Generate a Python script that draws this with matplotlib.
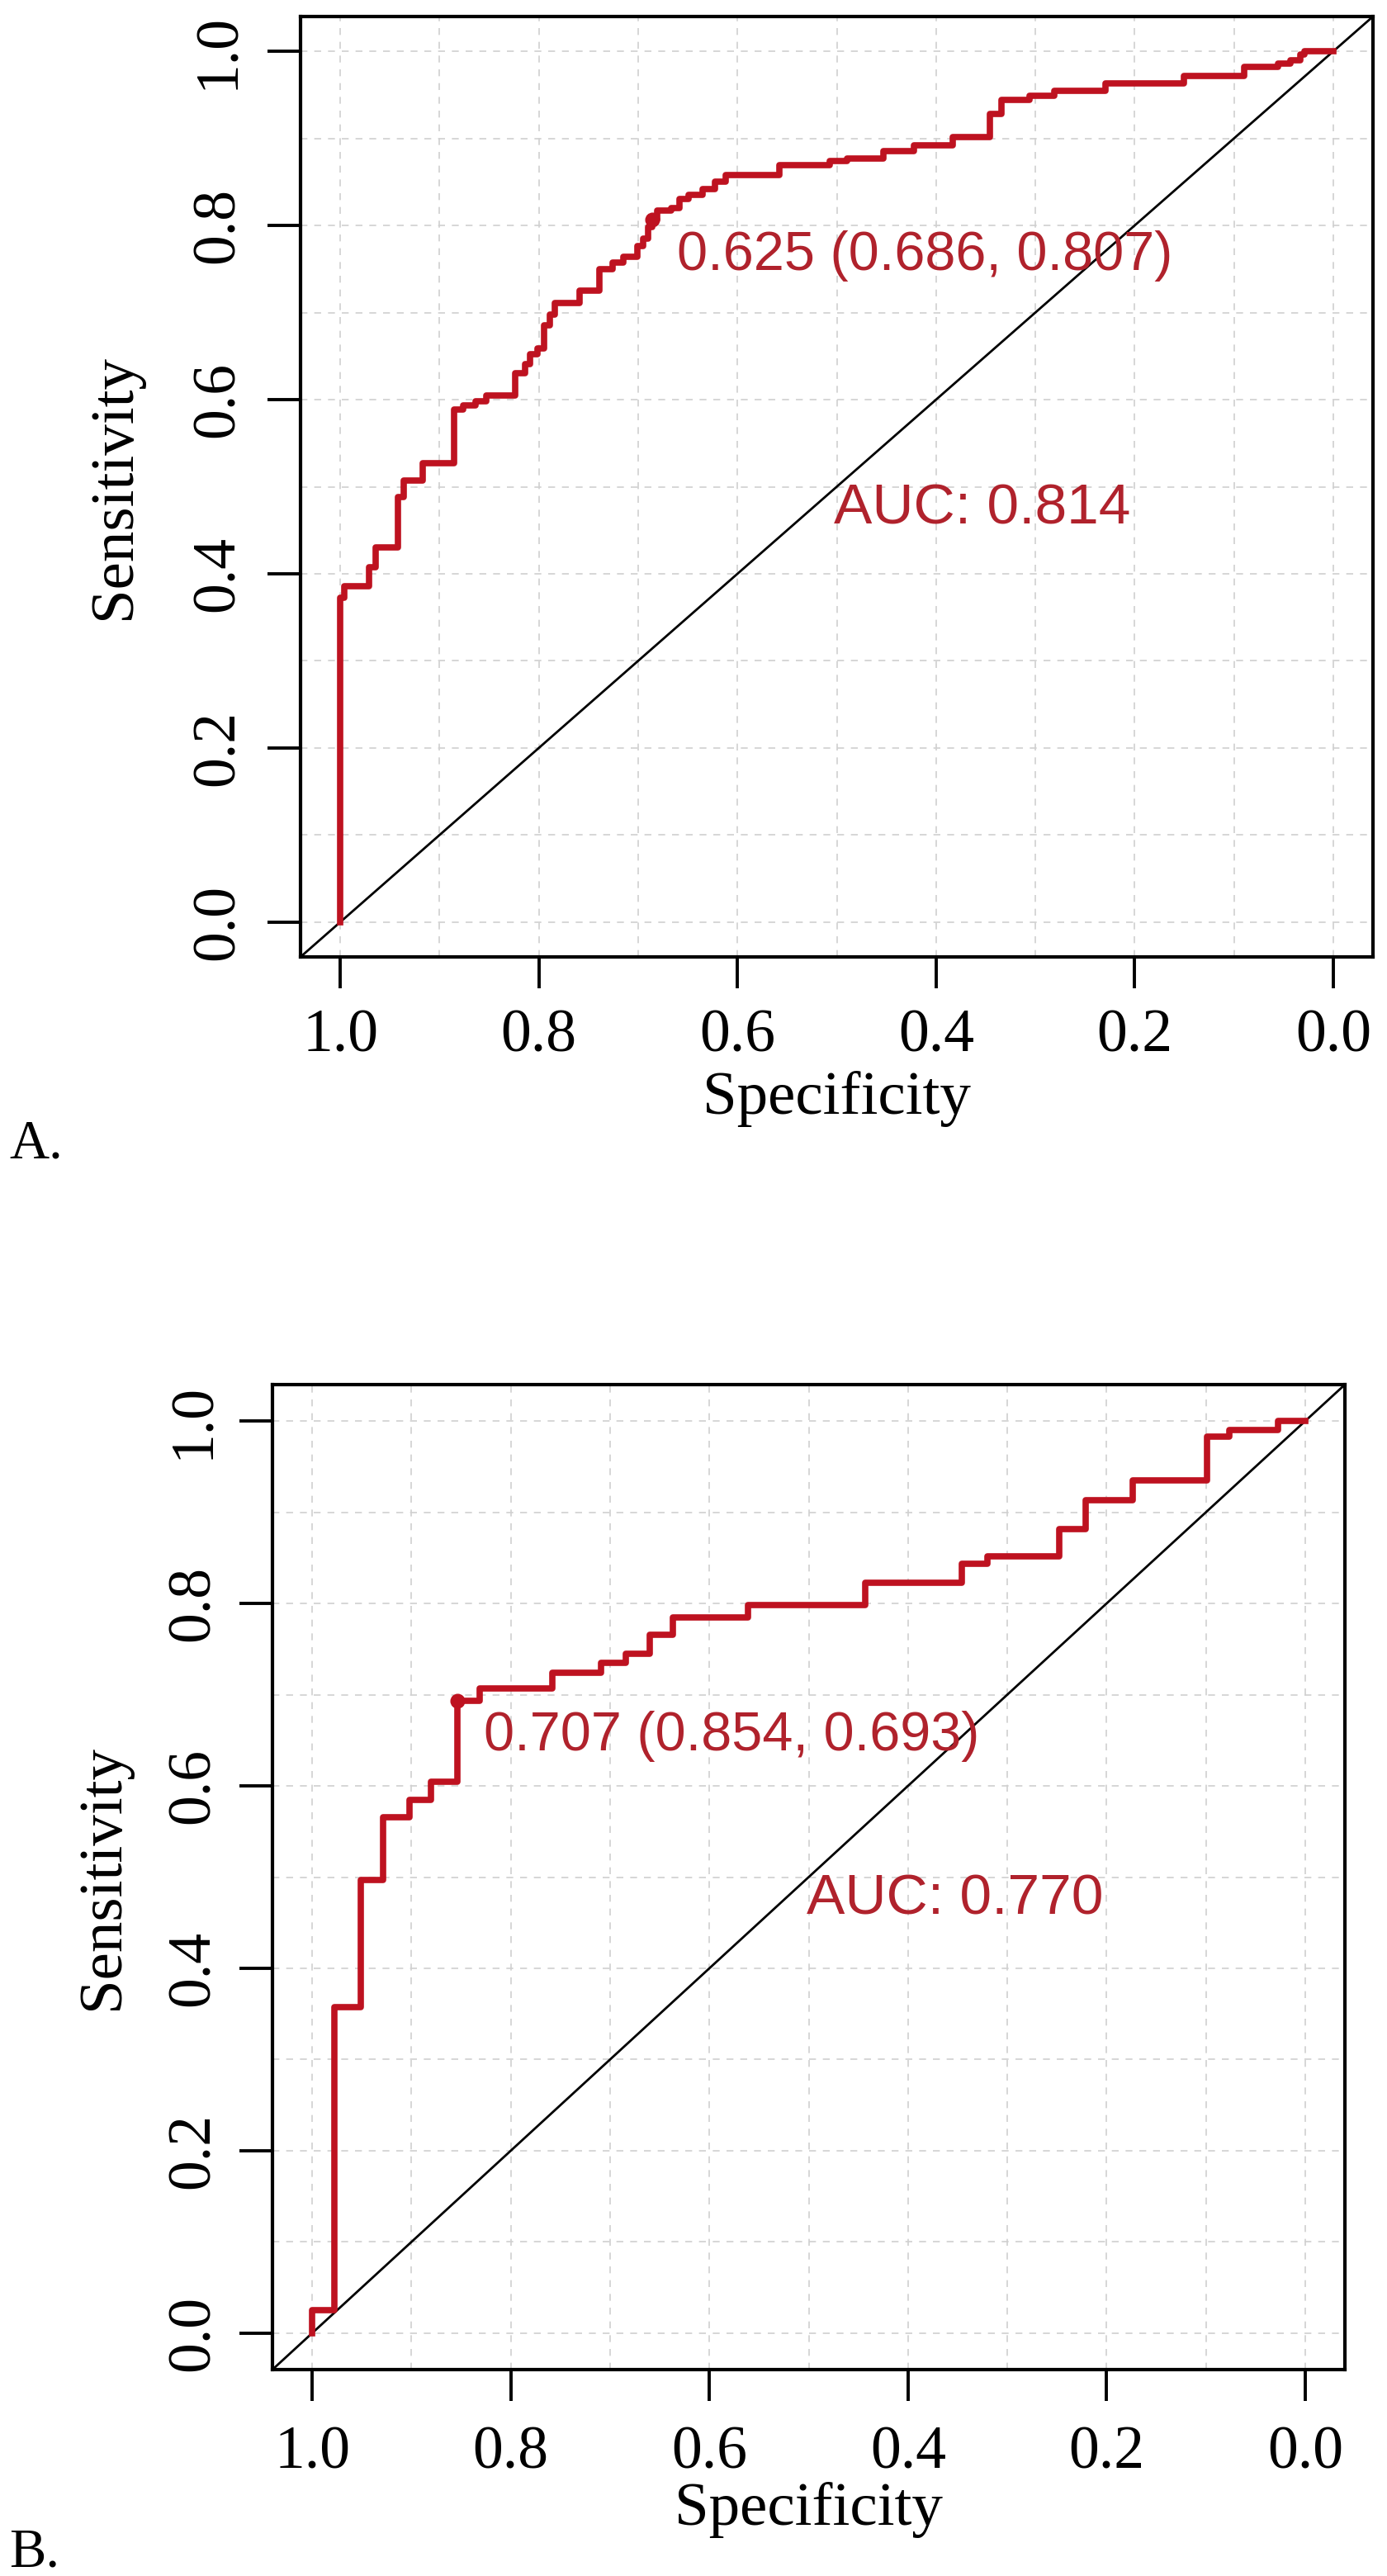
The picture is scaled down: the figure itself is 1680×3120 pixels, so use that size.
import matplotlib
matplotlib.use("Agg")
import matplotlib.pyplot as plt

plt.rcParams["font.family"] = ["Liberation Serif", "DejaVu Serif"]

# ROC corner points (vertical move first, then horizontal)
spec_a = [1.0, 0.996, 0.971, 0.964, 0.942, 0.936, 0.917, 0.885, 0.876, 0.864,
          0.853, 0.824, 0.814, 0.809, 0.801, 0.795, 0.789, 0.784, 0.759, 0.739,
          0.726, 0.715, 0.701, 0.695, 0.690, 0.686, 0.681, 0.667, 0.658, 0.649,
          0.635, 0.623, 0.612, 0.558, 0.507, 0.490, 0.453, 0.422, 0.383, 0.346,
          0.334, 0.306, 0.281, 0.229, 0.150, 0.090, 0.056, 0.043, 0.033, 0.029, 0.0]
sens_a = [0.0, 0.372, 0.386, 0.408, 0.430, 0.488, 0.507, 0.527, 0.589, 0.593,
          0.598, 0.605, 0.630, 0.641, 0.652, 0.659, 0.685, 0.698, 0.711, 0.725,
          0.750, 0.757, 0.764, 0.776, 0.785, 0.798, 0.807, 0.817, 0.820, 0.830,
          0.835, 0.842, 0.850, 0.858, 0.869, 0.874, 0.877, 0.885, 0.892, 0.902,
          0.928, 0.944, 0.949, 0.955, 0.963, 0.972, 0.982, 0.986, 0.990, 0.996, 1.0]

spec_b = [1.0, 0.978, 0.951, 0.929, 0.902, 0.880, 0.854, 0.831, 0.758, 0.709,
          0.684, 0.660, 0.637, 0.561, 0.443, 0.346, 0.320, 0.248, 0.221, 0.174,
          0.099, 0.076, 0.027, 0.0]
sens_b = [0.0, 0.025, 0.357, 0.497, 0.566, 0.585, 0.605, 0.693, 0.707, 0.724,
          0.735, 0.745, 0.766, 0.785, 0.798, 0.823, 0.844, 0.852, 0.882, 0.913,
          0.935, 0.983, 0.990, 1.0]

# best threshold points and labels
thr_a = (0.686, 0.807)
thr_b = (0.854, 0.693)
thr_text_a = "0.625 (0.686, 0.807)"
thr_text_b = "0.707 (0.854, 0.693)"
auc_text_a = "AUC: 0.814"
auc_text_b = "AUC: 0.770"

ticks = [0.0, 0.2, 0.4, 0.6, 0.8, 1.0]
tick_labels = ["0.0", "0.2", "0.4", "0.6", "0.8", "1.0"]
grid_ticks = [0.0, 0.1, 0.2, 0.3, 0.4, 0.5, 0.6, 0.7, 0.8, 0.9, 1.0]

RED = "#BE1220"
TXT_RED = "#B0222C"


def roc_panel(ax, spec, sens, thr, thr_text, thr_xy, auc_text, auc_xy,
              xpad, ypad, xlab_y, ylab_x):
    ax.set_xlim(1.04, -0.04)
    ax.set_ylim(-0.04, 1.04)

    # dashed grid every 0.1
    ax.set_xticks(grid_ticks, minor=True)
    ax.set_yticks(grid_ticks, minor=True)
    ax.grid(True, which="both", color="#d0d0d0", linestyle=(0, (5, 5)), linewidth=1.2)
    ax.set_axisbelow(True)
    ax.tick_params(which="minor", length=0)

    ax.set_xticks(ticks)
    ax.set_xticklabels(tick_labels)
    ax.set_yticks(ticks)
    ax.set_yticklabels(tick_labels, rotation=90, va="center")
    ax.tick_params(axis="x", which="major", direction="out", length=27, width=2.8,
                   labelsize=53, pad=xpad)
    ax.tick_params(axis="y", which="major", direction="out", length=29, width=2.8,
                   labelsize=53, pad=ypad)
    for sp in ax.spines.values():
        sp.set_linewidth(3.0)

    ax.axline((1.0, 0.0), (0.0, 1.0), color="black", linewidth=2.0)
    ax.plot(spec, sens, drawstyle="steps-pre", color=RED, linewidth=5.5)
    ax.plot([thr[0]], [thr[1]], "o", color=RED, markersize=12)

    ax.text(thr_xy[0], thr_xy[1], thr_text, color=TXT_RED, fontsize=48,
            family=["Liberation Sans", "DejaVu Sans"], ha="left", va="center")
    ax.text(auc_xy[0], auc_xy[1], auc_text, color=TXT_RED, fontsize=50,
            family=["Liberation Sans", "DejaVu Sans"], ha="left", va="center")

    ax.set_xlabel("Specificity", fontsize=54, va="center")
    ax.xaxis.set_label_coords(0.5, xlab_y)
    ax.set_ylabel("Sensitivity", fontsize=54, va="center")
    ax.yaxis.set_label_coords(ylab_x, 0.5)


fig = plt.figure(figsize=(16.8, 31.2), dpi=100)

ax_a = fig.add_axes([364 / 1680, 1 - 1159 / 3120, 1299 / 1680, 1139 / 3120])
roc_panel(ax_a, spec_a, sens_a, thr_a, thr_text_a, (0.661, 0.765),
          auc_text_a, (0.503, 0.474), xpad=18, ypad=18,
          xlab_y=-0.151, ylab_x=-0.173)

ax_b = fig.add_axes([330 / 1680, 1 - 2870 / 3120, 1299 / 1680, 1193 / 3120])
roc_panel(ax_b, spec_b, sens_b, thr_b, thr_text_b, (0.827, 0.654),
          auc_text_b, (0.502, 0.476), xpad=22, ypad=15,
          xlab_y=-0.1425, ylab_x=-0.158)

fig.text(11 / 1680, 1 - 1386 / 3120, "A.", fontsize=48, ha="left", va="center")
fig.text(11 / 1680, 1 - 3092 / 3120, "B.", fontsize=48, ha="left", va="center")

fig.savefig("out.png", dpi=100, facecolor="white")
